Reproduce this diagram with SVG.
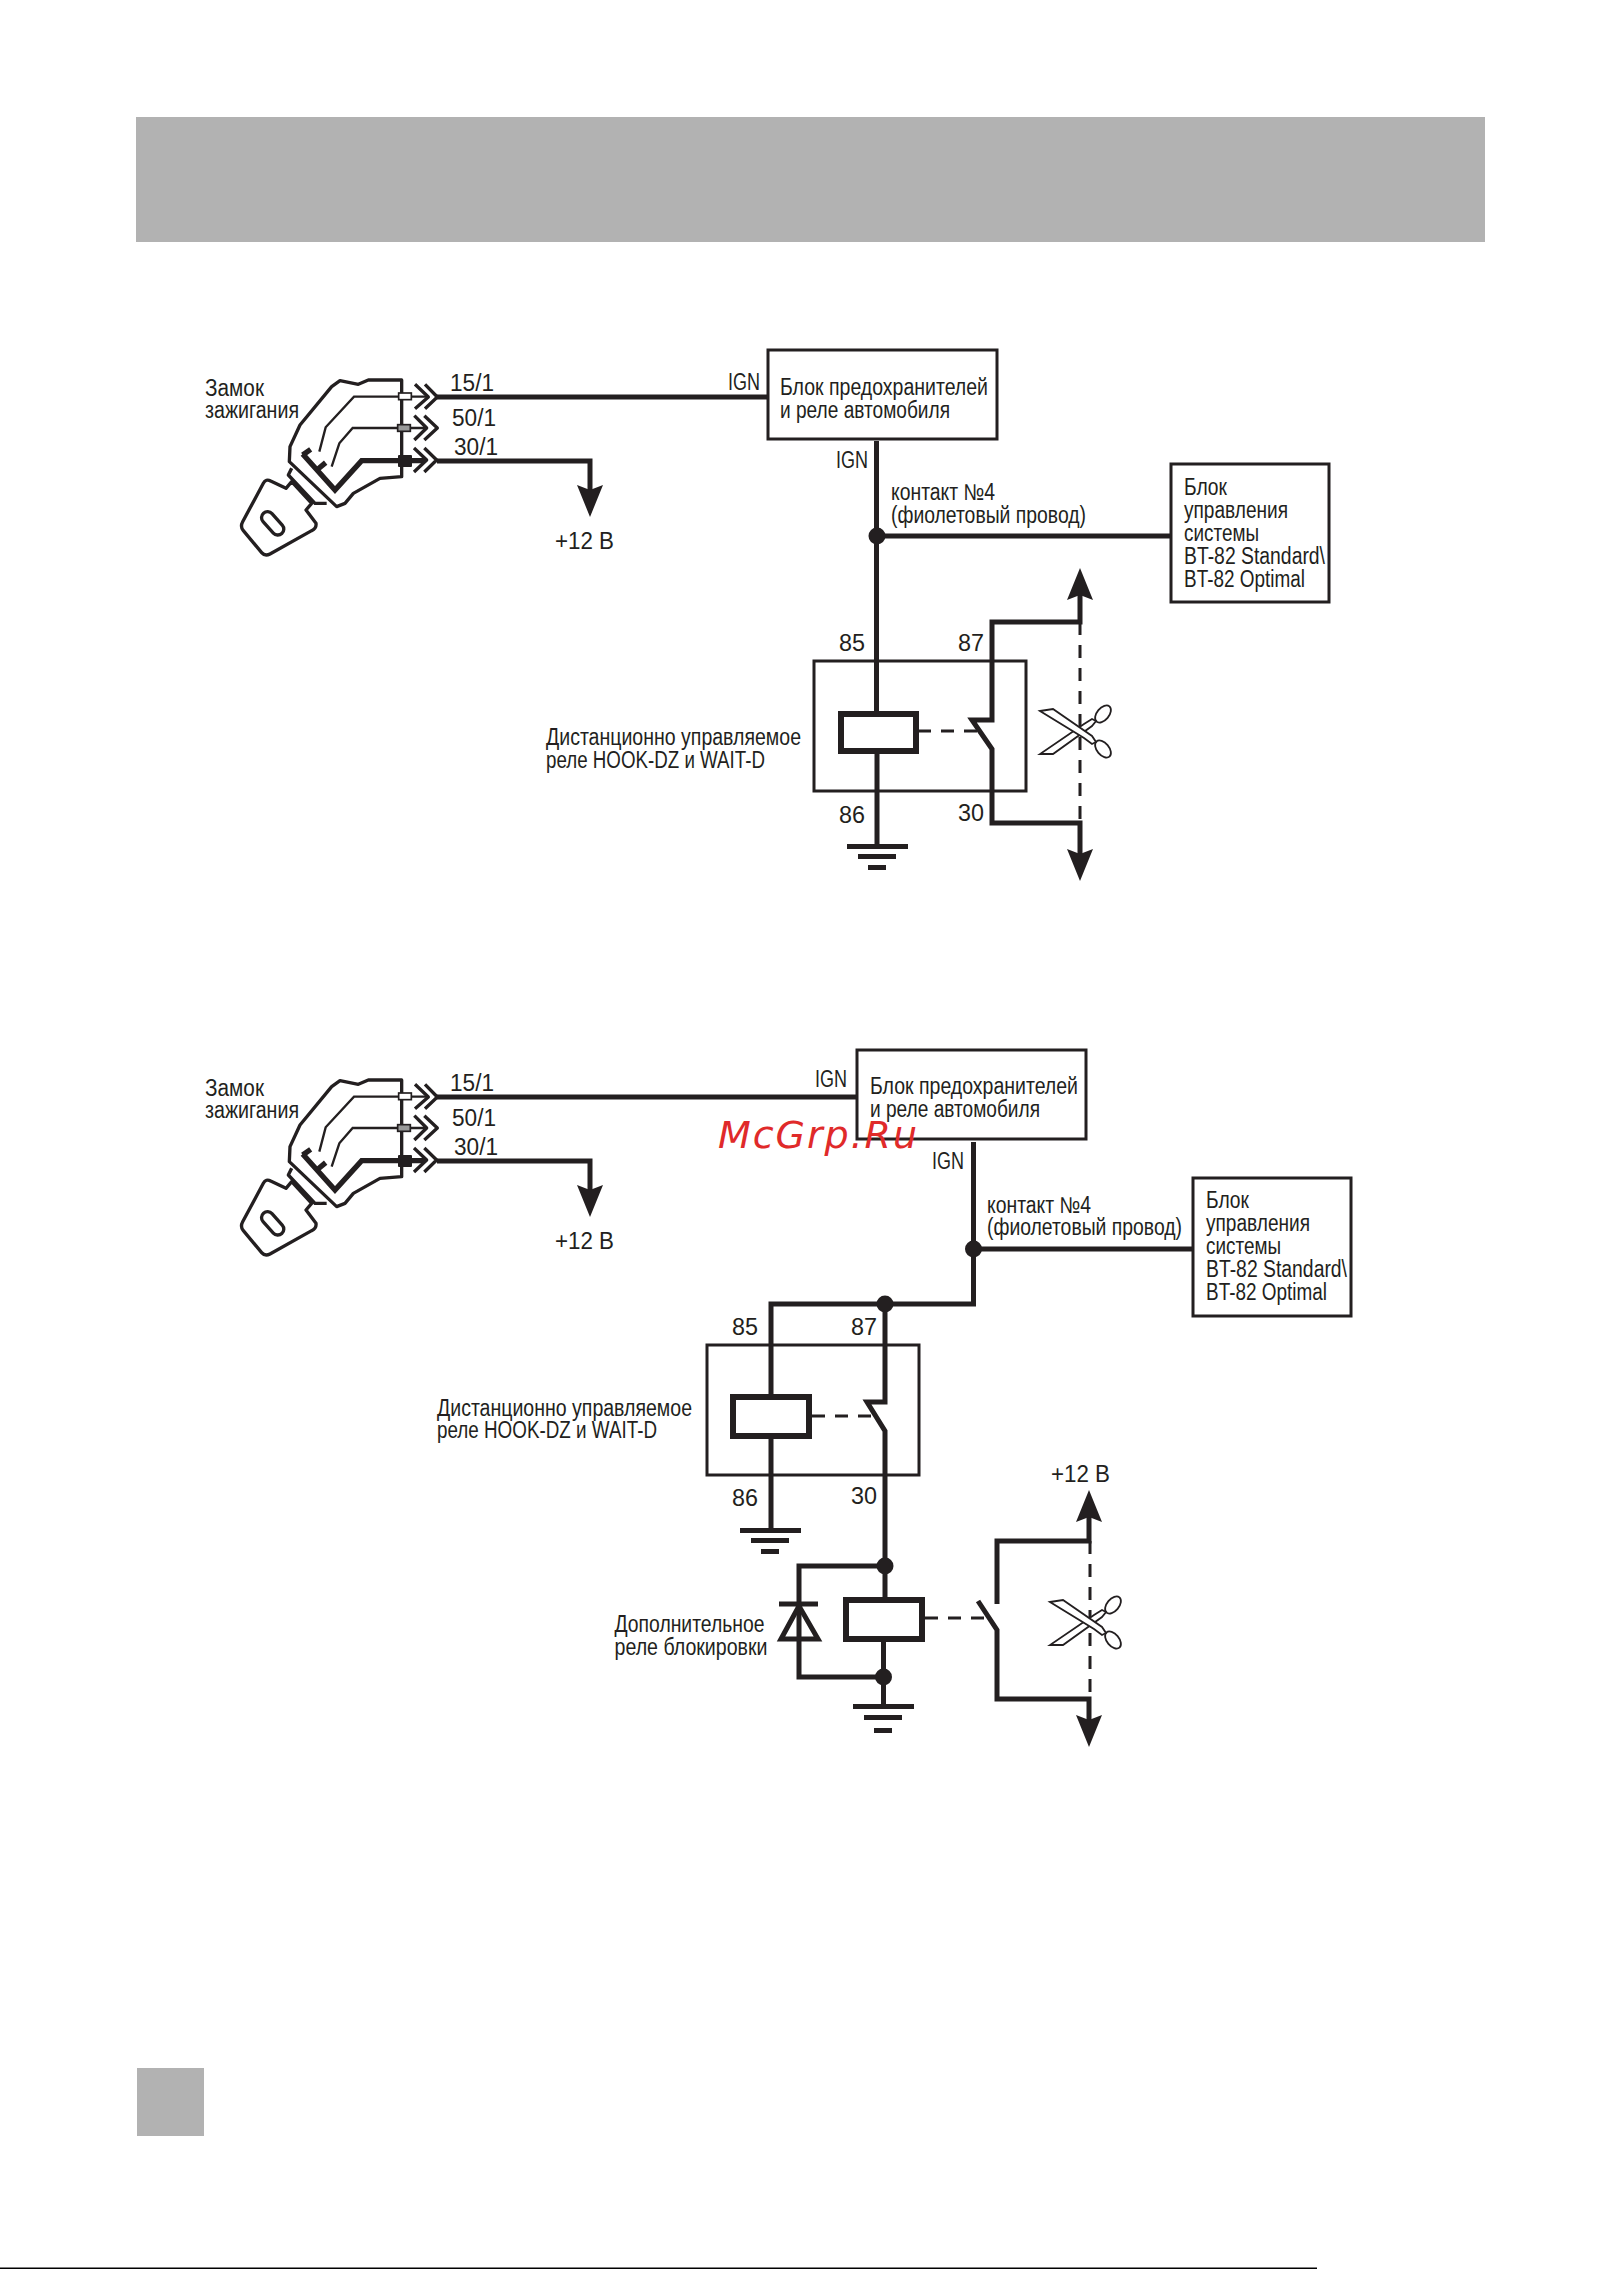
<svg xmlns="http://www.w3.org/2000/svg" xmlns:xlink="http://www.w3.org/1999/xlink" width="1621" height="2269" viewBox="0 0 1621 2269">
<style>
text{font-family:"Liberation Sans",Arial,sans-serif;font-size:23px;fill:#231f20;transform:translateY(1px)}
.num{font-size:23px}
.w{fill:none;stroke:#231f20;stroke-width:5}
.box{fill:#fff;stroke:#231f20;stroke-width:3}
.frame{fill:none;stroke:#231f20;stroke-width:3}
.coil{fill:#fff;stroke:#231f20;stroke-width:6}
.d{fill:none;stroke:#231f20;stroke-width:3;stroke-dasharray:13 10}
.f{fill:#231f20}
.sc{fill:#fff;stroke:#231f20;stroke-width:1.800}
.lk{fill:none;stroke:#231f20;stroke-width:10;stroke-linejoin:round}
.lt{fill:none;stroke:#231f20;stroke-width:7}
.lb{fill:none;stroke:#231f20;stroke-width:16}
</style>
<defs>
<g id="lockShape" transform="translate(180 340) scale(.33333)">
<path class="lk" d="M665 120L565 120L535 133L480 122L455 140L360 255L330 320L328 365L470 500L495 490L520 460L600 415L665 410Z"/>
<path class="lk" d="M335 385L325 405L405 490L440 490"/>
<path class="lk" d="M318 445L335 425L395 490L378 510L408 550Q410 565 395 572L270 642Q255 650 245 638L190 572Q180 560 188 545L250 430Q258 415 272 423Z"/>
<rect class="lk" x="-41" y="-18" width="82" height="36" rx="18" transform="translate(278 550) rotate(48)"/>
<path class="lb" d="M368 342L465 450L545 362L735 362"/>
<path class="lb" d="M392 328L368 345M437 368L414 387"/>
<path class="lt" d="M418 335L437 262L522 170L740 170M455 380L478 310L518 264L740 264"/>
<rect class="f" x="654" y="345" width="42" height="36" rx="3"/>
<rect x="656" y="159" width="38" height="20" fill="#fff" stroke="#231f20" stroke-width="5"/>
<rect x="653" y="254" width="38" height="20" fill="#999" stroke="#231f20" stroke-width="5"/>
<path class="lk" stroke-linejoin="miter" d="M705 133L745 171L705 206M735 133L772 171L735 206M703 227L740 264L703 300M733 227L772 264L733 300M702 324L740 360L702 396M733 324L770 360L733 396"/>
</g>
<path id="arrowUp" class="f" d="M0 0L13 32L0 27L-13 32Z"/>
<g id="scissors">
<ellipse class="sc" cx="19" cy="-17" rx="10" ry="6" transform="rotate(-50 19 -17)"/>
<ellipse class="sc" cx="19" cy="18" rx="10" ry="6" transform="rotate(50 19 18)"/>
<path class="sc" d="M-44 23L-31 23L8 -5L12 -10L8 -12L0 -7Z"/>
<path class="sc" d="M-44 -20L-31 -22L8 5L12 11L8 13L0 7Z"/>
</g>
</defs>
<rect id="header-band" x="136" y="117" width="1349" height="125" fill="#b2b2b2"/>
<rect id="page-tab" x="137" y="2068" width="67" height="68" fill="#b2b2b2"/>
<rect id="page-edge" x="0" y="2267.500" width="1317" height="1.500" fill="#000"/>

<g id="connectors-1">
<path class="w" d="M437 397H768"/>
<path class="w" d="M437 461H590V495"/>
<path class="w" d="M876.500 441V711M877 754V846"/>
<path class="w" d="M877 536H1171"/>
<path class="w" d="M1080 590V622H992V720H972L992 749V823H1080V860"/>
<path class="d" d="M1080 622V823"/>
<path class="d" d="M918 731H980"/>
</g>
<g id="lock-1"><use xlink:href="#lockShape"/>
<text x="205" y="395" textLength="59" lengthAdjust="spacingAndGlyphs">Замок</text>
<text x="205" y="417" textLength="94" lengthAdjust="spacingAndGlyphs">зажигания</text>
<text class="num" x="450" y="390" textLength="44" lengthAdjust="spacingAndGlyphs">15/1</text>
<text class="num" x="452" y="425" textLength="44" lengthAdjust="spacingAndGlyphs">50/1</text>
<text class="num" x="454" y="454" textLength="44" lengthAdjust="spacingAndGlyphs">30/1</text>
</g>
<g id="supply-1"><use xlink:href="#arrowUp" transform="translate(590 517) rotate(180)"/>
<text class="num" x="555" y="548" textLength="59" lengthAdjust="spacingAndGlyphs">+12 В</text></g>
<g id="fuse-1"><rect class="box" x="768" y="350" width="229" height="89"/>
<text x="780" y="394" textLength="208" lengthAdjust="spacingAndGlyphs">Блок предохранителей</text>
<text x="780" y="417" textLength="170" lengthAdjust="spacingAndGlyphs">и реле автомобиля</text>
<text x="728" y="389" textLength="32" lengthAdjust="spacingAndGlyphs">IGN</text>
<text x="836" y="467" textLength="32" lengthAdjust="spacingAndGlyphs">IGN</text></g>
<g id="junction-1"><circle class="f" cx="877" cy="536" r="8.500"/>
<text x="891" y="499" textLength="104" lengthAdjust="spacingAndGlyphs">контакт №4</text>
<text x="891" y="522" textLength="195" lengthAdjust="spacingAndGlyphs">(фиолетовый провод)</text></g>
<g id="control-1"><rect class="box" x="1171" y="464" width="158" height="138"/>
<text x="1184" y="494" textLength="43" lengthAdjust="spacingAndGlyphs">Блок</text>
<text x="1184" y="517" textLength="104" lengthAdjust="spacingAndGlyphs">управления</text>
<text x="1184" y="540" textLength="75" lengthAdjust="spacingAndGlyphs">системы</text>
<text x="1184" y="563" textLength="141" lengthAdjust="spacingAndGlyphs">BT-82 Standard\</text>
<text x="1184" y="586" textLength="121" lengthAdjust="spacingAndGlyphs">BT-82 Optimal</text></g>
<g id="relay-1"><rect class="frame" x="814" y="661" width="212" height="130"/>
<rect class="coil" x="841" y="714" width="75" height="37"/>
<text class="num" x="839" y="650" textLength="26" lengthAdjust="spacingAndGlyphs">85</text><text class="num" x="958" y="650" textLength="26" lengthAdjust="spacingAndGlyphs">87</text><text class="num" x="839" y="822" textLength="26" lengthAdjust="spacingAndGlyphs">86</text><text class="num" x="958" y="820" textLength="26" lengthAdjust="spacingAndGlyphs">30</text>
<text x="546" y="744" textLength="255" lengthAdjust="spacingAndGlyphs">Дистанционно управляемое</text>
<text x="546" y="767" textLength="219" lengthAdjust="spacingAndGlyphs">реле HOOK-DZ и WAIT-D</text></g>
<g id="ground-1" class="f"><rect x="847" y="844" width="61" height="5"/><rect x="858" y="854" width="38" height="5"/><rect x="868" y="865" width="18" height="5"/></g>
<g id="load-1"><use xlink:href="#arrowUp" transform="translate(1080 568)"/><use xlink:href="#arrowUp" transform="translate(1080 881) rotate(180)"/><use xlink:href="#scissors" transform="translate(1084 731)"/></g>

<g id="connectors-2">
<path class="w" d="M437 1097H857"/>
<path class="w" d="M437 1161H590V1195"/>
<path class="w" d="M973.500 1142V1304H771V1394M771 1439V1530"/>
<path class="w" d="M973 1249H1193"/>
<path class="w" d="M885 1304V1402H867L885 1431V1597M883.500 1642V1706"/>
<path class="w" d="M885 1566H799V1677H883.500"/>
<path class="w" d="M1089 1515V1541H997V1604M978 1601L997 1630V1699H1089V1725"/>
<path class="d" d="M812 1416H875"/>
<path class="d" d="M925 1618H988"/>
<path class="d" stroke-width="2.500" d="M1090 1541V1699"/>
</g>
<g id="lock-2"><use xlink:href="#lockShape" transform="translate(0 700)"/>
<text x="205" y="1095" textLength="59" lengthAdjust="spacingAndGlyphs">Замок</text>
<text x="205" y="1117" textLength="94" lengthAdjust="spacingAndGlyphs">зажигания</text>
<text class="num" x="450" y="1090" textLength="44" lengthAdjust="spacingAndGlyphs">15/1</text>
<text class="num" x="452" y="1125" textLength="44" lengthAdjust="spacingAndGlyphs">50/1</text>
<text class="num" x="454" y="1154" textLength="44" lengthAdjust="spacingAndGlyphs">30/1</text>
</g>
<g id="supply-2"><use xlink:href="#arrowUp" transform="translate(590 1217) rotate(180)"/>
<text class="num" x="555" y="1248" textLength="59" lengthAdjust="spacingAndGlyphs">+12 В</text></g>
<g id="fuse-2"><rect class="box" x="857" y="1050" width="229" height="89"/>
<text x="870" y="1093" textLength="208" lengthAdjust="spacingAndGlyphs">Блок предохранителей</text>
<text x="870" y="1116" textLength="170" lengthAdjust="spacingAndGlyphs">и реле автомобиля</text>
<text x="815" y="1086" textLength="32" lengthAdjust="spacingAndGlyphs">IGN</text>
<text x="932" y="1168" textLength="32" lengthAdjust="spacingAndGlyphs">IGN</text></g>
<g id="junction-2"><circle class="f" cx="973.500" cy="1249" r="8.500"/><circle class="f" cx="885" cy="1304" r="8.500"/>
<text x="987" y="1212" textLength="104" lengthAdjust="spacingAndGlyphs">контакт №4</text>
<text x="987" y="1234" textLength="195" lengthAdjust="spacingAndGlyphs">(фиолетовый провод)</text></g>
<g id="control-2"><rect class="box" x="1193" y="1178" width="158" height="138"/>
<text x="1206" y="1207" textLength="43" lengthAdjust="spacingAndGlyphs">Блок</text>
<text x="1206" y="1230" textLength="104" lengthAdjust="spacingAndGlyphs">управления</text>
<text x="1206" y="1253" textLength="75" lengthAdjust="spacingAndGlyphs">системы</text>
<text x="1206" y="1276" textLength="141" lengthAdjust="spacingAndGlyphs">BT-82 Standard\</text>
<text x="1206" y="1299" textLength="121" lengthAdjust="spacingAndGlyphs">BT-82 Optimal</text></g>
<g id="relay-2"><rect class="frame" x="707" y="1345" width="212" height="130"/>
<rect class="coil" x="733" y="1397" width="76" height="39"/>
<text class="num" x="732" y="1334" textLength="26" lengthAdjust="spacingAndGlyphs">85</text><text class="num" x="851" y="1334" textLength="26" lengthAdjust="spacingAndGlyphs">87</text><text class="num" x="732" y="1505" textLength="26" lengthAdjust="spacingAndGlyphs">86</text><text class="num" x="851" y="1503" textLength="26" lengthAdjust="spacingAndGlyphs">30</text>
<text x="437" y="1415" textLength="255" lengthAdjust="spacingAndGlyphs">Дистанционно управляемое</text>
<text x="437" y="1437" textLength="220" lengthAdjust="spacingAndGlyphs">реле HOOK-DZ и WAIT-D</text></g>
<g id="ground-2" class="f"><rect x="740" y="1528" width="61" height="5"/><rect x="751" y="1538" width="38" height="5"/><rect x="761" y="1549" width="18" height="5"/></g>
<g id="blocking-relay"><circle class="f" cx="885" cy="1566" r="8.500"/><circle class="f" cx="883.500" cy="1677" r="8.500"/>
<rect class="coil" x="846" y="1600" width="76" height="39"/>
<path fill="none" stroke="#231f20" stroke-width="5" d="M779 1604H818M799 1606L781 1639H818Z"/>
<text x="614.500" y="1631" textLength="150" lengthAdjust="spacingAndGlyphs">Дополнительное</text>
<text x="614.500" y="1654" textLength="153" lengthAdjust="spacingAndGlyphs">реле блокировки</text></g>
<g id="ground-3" class="f"><rect x="853" y="1704" width="61" height="5"/><rect x="864" y="1715" width="38" height="5"/><rect x="874" y="1728" width="18" height="5"/></g>
<g id="load-2"><use xlink:href="#arrowUp" transform="translate(1089 1490)"/><use xlink:href="#arrowUp" transform="translate(1089 1747) rotate(180)"/><use xlink:href="#scissors" transform="translate(1094 1622)"/>
<text class="num" x="1051" y="1481" textLength="59" lengthAdjust="spacingAndGlyphs">+12 В</text></g>
<text id="watermark" x="718" y="1147" textLength="199" lengthAdjust="spacing" style="font-family:'DejaVu Sans',sans-serif;font-style:italic;font-size:38px;fill:#e02a2a">McGrp.Ru</text>
</svg>
